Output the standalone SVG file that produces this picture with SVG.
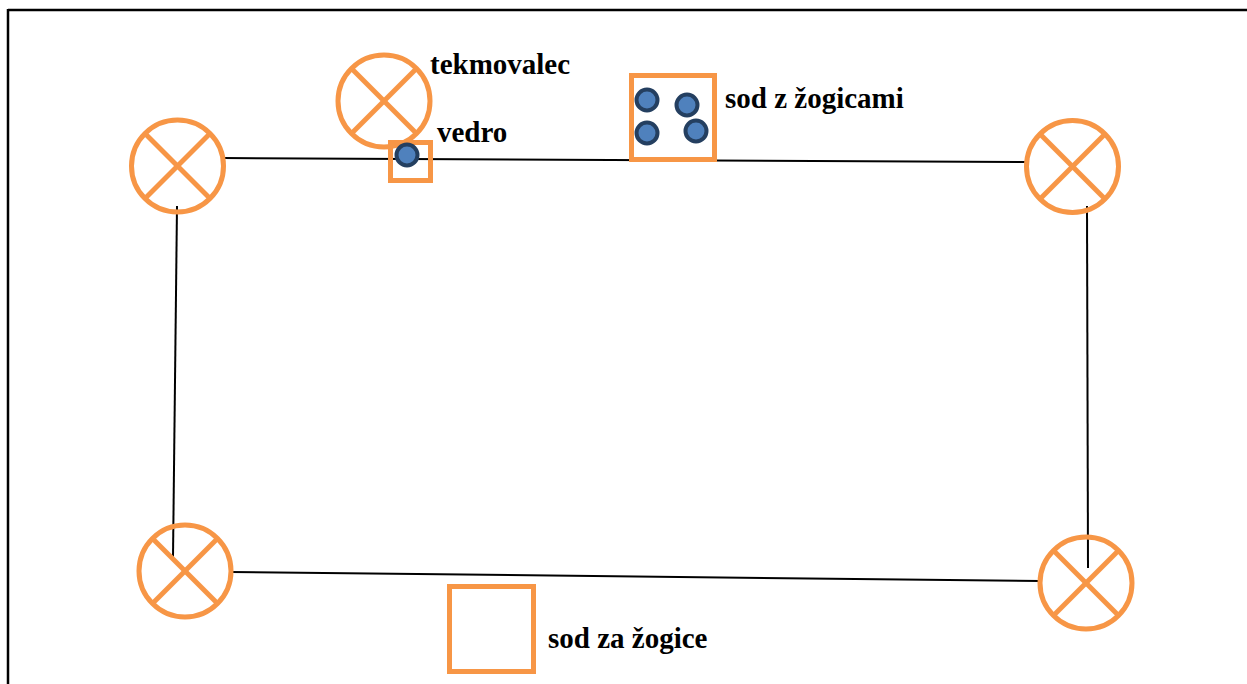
<svg xmlns="http://www.w3.org/2000/svg" width="1247" height="684" viewBox="0 0 1247 684">
<defs>
<style>
.lamp{fill:none;stroke:#F79646;stroke-width:5}
.box{fill:none;stroke:#F79646;stroke-width:5}
.ball{fill:#4F81BD;stroke:#243F60;stroke-width:4}
.conn{stroke:#000;stroke-width:2;fill:none}
.lbl{font-family:"Liberation Serif","Times New Roman",serif;font-weight:bold;font-size:29px;fill:#000}
</style>
<g id="cone">
<circle class="lamp" cx="0" cy="0" r="46"/>
<line class="lamp" x1="-32.5" y1="-32.5" x2="32.5" y2="32.5"/>
<line class="lamp" x1="32.5" y1="-32.5" x2="-32.5" y2="32.5"/>
</g>
</defs>
<rect width="1247" height="684" fill="#fff"/>
<g id="frame">
<line x1="8" y1="10" x2="1247" y2="10" stroke="#000" stroke-width="2.5"/>
<line x1="8" y1="9" x2="8" y2="684" stroke="#000" stroke-width="2.5"/>
</g>
<g id="connectors">
<line class="conn" x1="223" y1="158" x2="1027" y2="162"/>
<line class="conn" x1="177" y1="206" x2="173" y2="557"/>
<line class="conn" x1="1087" y1="206" x2="1088" y2="568"/>
<line class="conn" x1="231" y1="572" x2="1040" y2="581"/>
</g>
<g id="cone-tl"><use href="#cone" x="177.5" y="166"/></g>
<g id="cone-tr"><use href="#cone" x="1072.5" y="166.5"/></g>
<g id="cone-bl"><use href="#cone" x="185" y="571"/></g>
<g id="cone-br"><use href="#cone" x="1086" y="583"/></g>
<g id="tekmovalec">
<use href="#cone" x="384" y="101"/>
<text class="lbl" x="430" y="74">tekmovalec</text>
</g>
<g id="vedro">
<rect class="box" x="390.5" y="142.5" width="40" height="38"/>
<circle class="ball" cx="407" cy="155" r="10.5"/>
<text class="lbl" x="437" y="142">vedro</text>
</g>
<g id="sod-z-zogicami">
<rect class="box" x="631.5" y="75.5" width="83" height="84"/>
<circle class="ball" cx="647" cy="100" r="10.5"/>
<circle class="ball" cx="687" cy="105" r="10.5"/>
<circle class="ball" cx="647" cy="133" r="10.5"/>
<circle class="ball" cx="696" cy="131" r="10.5"/>
<text class="lbl" x="725" y="108">sod z žogicami</text>
</g>
<g id="sod-za-zogice">
<rect class="box" x="449.5" y="586.5" width="84" height="85"/>
<text class="lbl" x="548" y="648">sod za žogice</text>
</g>
</svg>
